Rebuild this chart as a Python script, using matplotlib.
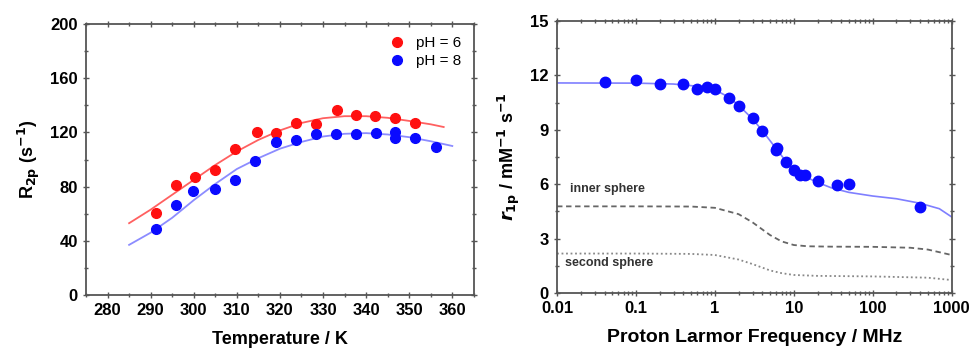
import numpy as np
import matplotlib
matplotlib.use('Agg')
import matplotlib.pyplot as plt
from matplotlib.ticker import MultipleLocator, LogLocator, NullFormatter, FixedLocator

plt.rcParams['font.family'] = ['Liberation Sans', 'DejaVu Sans']
plt.rcParams['font.weight'] = 'bold'
plt.rcParams['mathtext.default'] = 'bf'

# Left panel: R2p vs temperature
T_ph6 = [291.2, 295.8, 300.4, 305.0, 309.6, 314.6, 319.0, 323.7, 328.3, 333.3, 337.6, 342.0, 346.7, 351.4]
R_ph6 = [60.2, 81.0, 87.2, 92.1, 108.1, 120.4, 119.9, 127.3, 126.5, 136.9, 132.7, 131.9, 130.5, 126.8]
T_ph8 = [291.2, 295.8, 299.9, 305.0, 309.6, 314.3, 319.0, 323.7, 328.3, 333.1, 337.6, 342.2, 346.7, 346.7, 351.4, 356.2]
R_ph8 = [48.9, 66.8, 77.1, 78.6, 85.0, 99.0, 112.8, 114.3, 119.2, 119.2, 119.2, 119.9, 120.1, 116.2, 116.2, 109.6]

Tfit6 = [285, 290, 295, 300, 305, 310, 315, 320, 325, 330, 335, 340, 345, 350, 355, 358]
Rfit6 = [53, 63, 74, 85, 96, 106, 114.5, 121.5, 127, 130.5, 132, 132, 130.8, 128.5, 126, 124]
Tfit8 = [285, 290, 295, 300, 305, 310, 315, 320, 325, 330, 335, 340, 345, 350, 355, 360]
Rfit8 = [37, 46, 57, 70, 82, 93, 101, 108, 113, 117, 119, 119.5, 118.5, 116.5, 113.5, 110]

# Right panel: NMRD profile
freq = [0.04, 0.1, 0.2, 0.4, 0.6, 0.8, 1.0, 1.5, 2, 3, 4, 6, 6.2, 8, 10, 12, 14, 20, 35, 50, 400]
r1p = [11.63, 11.77, 11.5, 11.52, 11.22, 11.33, 11.22, 10.73, 10.31, 9.63, 8.93, 7.9, 8.0, 7.2, 6.79, 6.51, 6.51, 6.18, 5.94, 6.0, 4.77]

f_fit = [0.01, 0.1, 0.3, 0.6, 1, 1.5, 2, 3, 4, 6, 8, 10, 15, 20, 30, 50, 100, 200, 400, 700, 1000]
r_fit = [11.58, 11.57, 11.52, 11.4, 11.2, 10.8, 10.35, 9.6, 8.95, 7.95, 7.25, 6.8, 6.35, 6.1, 5.8, 5.55, 5.35, 5.2, 4.95, 4.65, 4.2]

f_is = [0.01, 0.1, 0.5, 1, 2, 3, 5, 7, 10, 15, 30, 100, 300, 500, 1000]
r_is = [4.78, 4.78, 4.77, 4.7, 4.35, 3.9, 3.2, 2.85, 2.65, 2.58, 2.56, 2.55, 2.5, 2.4, 2.1]
f_ss = [0.01, 0.1, 0.5, 1, 2, 3, 5, 7, 10, 20, 100, 500, 1000]
r_ss = [2.18, 2.18, 2.16, 2.1, 1.85, 1.6, 1.25, 1.1, 1.0, 0.95, 0.92, 0.85, 0.72]

fig = plt.figure(figsize=(9.73, 3.54), dpi=100)
ax1 = fig.add_axes([0.0884, 0.1667, 0.3986, 0.7653])
ax2 = fig.add_axes([0.5725, 0.172, 0.4055, 0.769])

spine_col = '#555555'
for ax in (ax1, ax2):
    for s in ax.spines.values():
        s.set_color(spine_col)
        s.set_linewidth(1.3)
    ax.tick_params(which='both', direction='inout', top=True, right=True,
                   color=spine_col, labelsize=12, width=1.0)
    ax.tick_params(which='major', length=5)
    ax.tick_params(which='minor', length=3)
    ax.tick_params(labeltop=False, labelright=False)

# left
ax1.plot(Tfit6, Rfit6, color='#ff6060', lw=1.3, zorder=2)
ax1.plot(Tfit8, Rfit8, color='#8c8cff', lw=1.3, zorder=2)
ax1.plot(T_ph6, R_ph6, 'o', color='#ff1010', ms=7, label='pH = 6', zorder=3)
ax1.plot(T_ph8, R_ph8, 'o', color='#0a0aff', ms=7, label='pH = 8', zorder=3)
ax1.set_xlim(275, 365)
ax1.set_ylim(0, 200)
ax1.xaxis.set_major_locator(MultipleLocator(10))
ax1.xaxis.set_minor_locator(MultipleLocator(5))
ax1.yaxis.set_major_locator(MultipleLocator(40))
ax1.yaxis.set_minor_locator(MultipleLocator(20))
ax1.set_xlabel('Temperature / K', fontsize=13, fontweight='bold', labelpad=9)
ax1.set_ylabel(r'R$_{2p}$ (s$^{-1}$)', fontsize=13, fontweight='bold', labelpad=6)
leg = ax1.legend(loc='upper right', frameon=False, fontsize=11, handletextpad=0.7,
                 borderaxespad=0.4, labelspacing=0.25, handlelength=1.2)
for t in leg.get_texts():
    t.set_fontweight('normal')

# right
ax2.set_xscale('log')
ax2.plot(f_fit, r_fit, color='#7f7fff', lw=1.2, zorder=2)
ax2.plot(f_is, r_is, color='#666666', lw=1.3, ls=(0, (3, 2)), zorder=2)
ax2.plot(f_ss, r_ss, color='#888888', lw=1.3, ls=(0, (1, 1.5)), zorder=2)
ax2.plot(freq, r1p, 'o', color='#0a0aff', ms=7.5, zorder=3)
ax2.set_xlim(0.01, 1000)
ax2.set_ylim(0, 15)
ax2.xaxis.set_major_locator(FixedLocator([0.01, 0.1, 1, 10, 100, 1000]))
ax2.xaxis.set_minor_locator(LogLocator(base=10, subs=np.arange(2, 10), numticks=100))
ax2.xaxis.set_minor_formatter(NullFormatter())
ax2.set_xticklabels(['0.01', '0.1', '1', '10', '100', '1000'])
ax2.yaxis.set_major_locator(MultipleLocator(3))
ax2.yaxis.set_minor_locator(MultipleLocator(1.5))
ax2.text(0.0145, 5.75, 'inner sphere', fontsize=9, fontweight='bold', color='#333333', va='center')
ax2.text(0.0126, 1.65, 'second sphere', fontsize=9, fontweight='bold', color='#333333', va='center')
ax2.set_xlabel('Proton Larmor Frequency / MHz', fontsize=14, fontweight='bold', labelpad=9)
ax2.set_ylabel(r'$\mathit{r}_{1p}$ / mM$^{-1}$ s$^{-1}$', fontsize=13, fontweight='bold', labelpad=6)

fig.savefig('out.png', dpi=100)
